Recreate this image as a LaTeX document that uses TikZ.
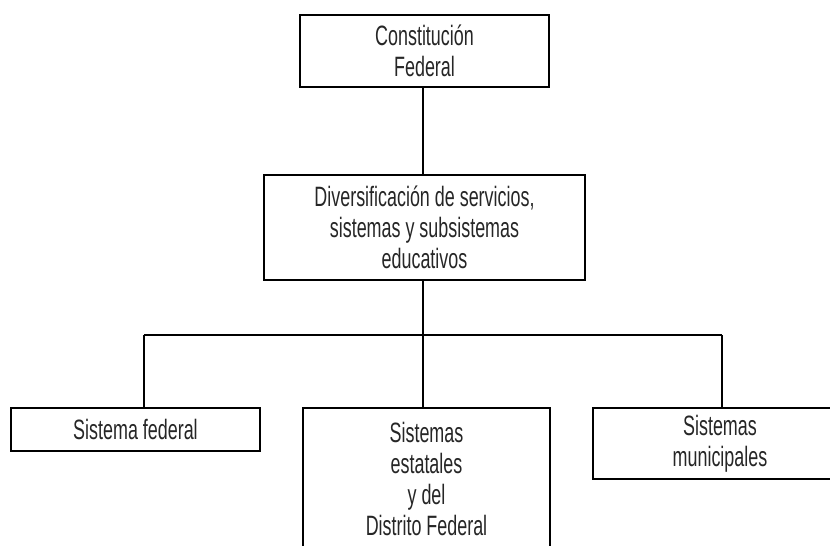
\documentclass[tikz,border=0pt]{standalone}
\usepackage{fontspec}
\setmainfont[FakeStretch=0.64]{Liberation Sans}
\begin{document}
\begin{tikzpicture}[x=1pt,y=-1pt,
  box/.style={draw=black,line width=1.3pt,rectangle,inner sep=0pt,align=center,
    font=\fontsize{28}{31}\selectfont,text=black!85},
  conn/.style={draw=black,line width=1.8pt}]
\useasboundingbox (0,0) rectangle (830,546);
\clip (0,0) rectangle (830,546);
\node[box,minimum width=249pt,minimum height=72pt] (b1) at (424.5,51) {Constitución\\Federal};
\node[box,minimum width=321pt,minimum height=105pt] (b2) at (424.5,227.5) {Diversificación de servicios,\\sistemas y subsistemas\\educativos};
\node[box,minimum width=249pt,minimum height=43pt] (b3) at (135.5,429.5) {Sistema federal};
\node[box,minimum width=247pt,minimum height=141pt] (b4) at (426.5,478.5) {Sistemas\\estatales\\y del\\Distrito Federal};
\node[box,minimum width=254pt,minimum height=71pt] (b5) at (720,443.5) {Sistemas\\municipales};
\coordinate (jl) at (144,335);
\coordinate (jr) at (722,335);
\coordinate (jm) at (423,335);
\draw[conn] (b1.south -| jm) -- (b2.north -| jm);
\draw[conn] (b2.south -| jm) -- (jm);
\draw[conn] (jl) -- (jr);
\draw[conn] (jl) -- (jl |- b3.north);
\draw[conn] (jm) -- (jm |- b4.north);
\draw[conn] (jr) -- (jr |- b5.north);
\end{tikzpicture}
\end{document}
